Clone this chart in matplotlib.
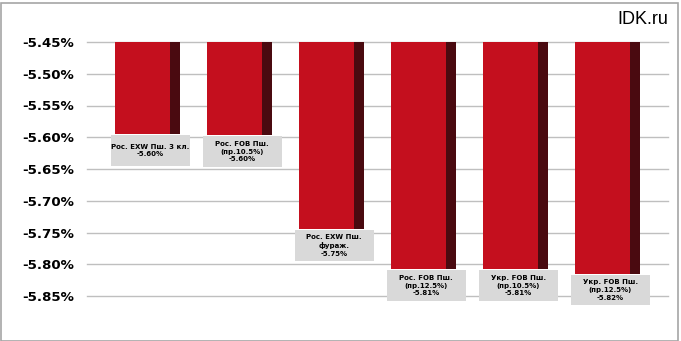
import numpy as np
import matplotlib
matplotlib.use('Agg')
import matplotlib.pyplot as plt
from matplotlib.patches import Rectangle

# data
labels = ["Рос. EXW Пш. 3 кл.\n-5.60%",
          "Рос. FOB Пш.\n(пр.10.5%)\n-5.60%",
          "Рос. EXW Пш.\nфураж.\n-5.75%",
          "Рос. FOB Пш.\n(пр.12.5%)\n-5.81%",
          "Укр. FOB Пш.\n(пр.10.5%)\n-5.81%",
          "Укр. FOB Пш.\n(пр.12.5%)\n-5.82%"]
values = [-5.595, -5.597, -5.745, -5.808, -5.808, -5.815]
yticks = [-5.45, -5.50, -5.55, -5.60, -5.65, -5.70, -5.75, -5.80, -5.85]
base = -5.45

red = '#c40f1e'
dark = '#4a0a10'

W, H = 681, 341
fig = plt.figure(figsize=(W/100, H/100), dpi=100)
fig.patches.append(Rectangle((0.5/W, 0.5/H), 1 - 4/W, 1 - 3/H,
                             transform=fig.transFigure, fill=False,
                             edgecolor='#a6a6a6', linewidth=1.2))

ax = fig.add_axes([87/W, 1 - 296/H, 581/W, 254/H])
x = np.arange(len(values))
heights = np.array(values) - base

ax.bar(x - 0.054, heights, bottom=base, width=0.598, color=red, zorder=3)
ax.bar(x + 0.299, heights, bottom=base, width=0.109, color=dark, zorder=3)

# label boxes: fixed size (~79 x 30 px), just below each bar
box_w, box_h, gap = 0.86, 0.048, 0.0018
for xi, v, lab in zip(x, values, labels):
    xc = xi + 0.03
    top = v - gap
    ax.add_patch(Rectangle((xc - box_w / 2, top - box_h), box_w, box_h,
                           facecolor='#d9d9d9', edgecolor='none',
                           zorder=4, clip_on=False))
    ax.text(xc, top - box_h / 2, lab, ha='center', va='center',
            fontsize=5.0, fontweight='bold', linespacing=1.35,
            zorder=5, clip_on=False)

ax.set_xlim(-0.6576, 5.658)
ax.set_ylim(-5.85, -5.45)
ax.set_yticks(yticks)
ax.set_yticklabels(['%.2f%%' % t for t in yticks], fontsize=9.6,
                   fontweight='bold')
ax.set_xticks([])
ax.grid(axis='y', color='#bfbfbf', linewidth=1.0, zorder=0)
for gl in ax.get_ygridlines():
    gl.set_clip_on(False)
ax.tick_params(axis='y', length=0, pad=9.5)
for s in ax.spines.values():
    s.set_visible(False)

fig.text(668/W, 1 - 20/H, 'IDK.ru', ha='right', va='center', fontsize=13,
         family='Liberation Sans')

fig.savefig('out.png', dpi=100)
